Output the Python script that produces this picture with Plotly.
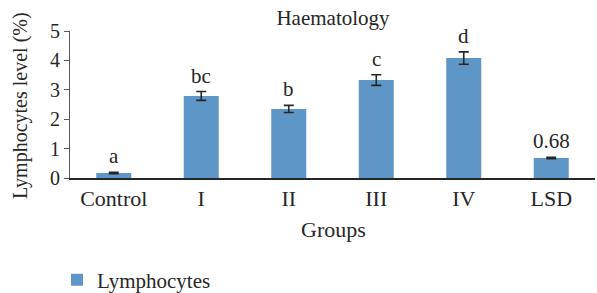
import plotly.graph_objects as go

groups = ["Control", "I", "II", "III", "IV", "LSD"]
lymphocytes = [0.17, 2.79, 2.35, 3.33, 4.08, 0.68]
errors = [0.02, 0.15, 0.12, 0.18, 0.21, 0.02]
letters = ["a", "bc", "b", "c", "d", "0.68"]
y_ticks = [0, 1, 2, 3, 4, 5]

FONT = "Liberation Serif"
TXT = "#262626"
L, R, T, B = 70, 2, 31, 115
W, H = 597, 293
PW, PH = W - L - R, H - T - B


def px_x(px):
    return (px - L) / PW


def px_y(py):
    return (H - B - py) / PH


fig = go.Figure()
fig.add_trace(go.Bar(
    x=groups, y=lymphocytes, name="Lymphocytes",
    marker=dict(color="#5F96C8", line=dict(width=0)),
    width=0.4,
    error_y=dict(type="data", array=errors, visible=True,
                 color="#262626", thickness=1.6, width=5),
))

for g, v, e, t in zip(groups, lymphocytes, errors, letters):
    fig.add_annotation(x=g, y=v + e, text=t, showarrow=False,
                       yanchor="bottom", yshift=2,
                       font=dict(family=FONT, size=21, color=TXT))

# axis titles
fig.add_annotation(xref="paper", yref="paper", x=px_x(20), y=px_y(106),
                   text="Lymphocytes level (%)", textangle=-90,
                   showarrow=False, xanchor="center", yanchor="middle",
                   font=dict(family=FONT, size=20, color=TXT))
fig.add_annotation(xref="paper", yref="paper", x=px_x(333), y=px_y(229),
                   text="Groups", showarrow=False,
                   xanchor="center", yanchor="middle",
                   font=dict(family=FONT, size=22, color=TXT))

fig.update_layout(
    width=W, height=H,
    margin=dict(l=L, r=R, t=T, b=B, autoexpand=False),
    paper_bgcolor="white", plot_bgcolor="white",
    font=dict(family=FONT, size=20, color=TXT),
    title=dict(text="Haematology", x=333 / W, xanchor="center",
               y=1 - 18 / H, yanchor="middle",
               font=dict(family=FONT, size=21, color=TXT)),
    showlegend=True,
    legend=dict(orientation="h", x=px_x(57), xanchor="left",
                y=px_y(280), yanchor="middle",
                font=dict(family=FONT, size=21, color=TXT)),
    bargap=0.6,
)
fig.update_xaxes(
    type="category", range=[-0.5, 5.5], automargin=False,
    showline=True, linecolor="#262626", linewidth=1.5,
    ticks="", showgrid=False,
    tickfont=dict(family=FONT, size=22, color=TXT),
)
fig.update_yaxes(
    range=[0, 5], tickvals=y_ticks, automargin=False,
    showline=True, linecolor="#595959", linewidth=1.2,
    ticks="outside", ticklen=5, tickcolor="#595959", tickwidth=1.2,
    showgrid=False, zeroline=False,
    tickfont=dict(family=FONT, size=20, color=TXT),
)

fig.write_html(
    "out.html",
    config={"displayModeBar": False},
    post_script="document.body.style.margin='0';"
                "document.body.style.overflow='hidden';",
)
